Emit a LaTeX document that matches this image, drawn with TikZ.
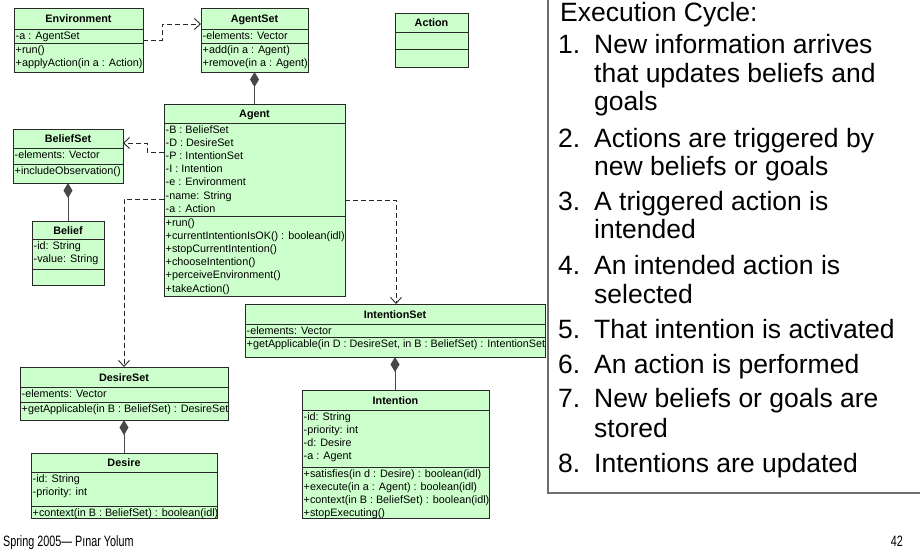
\documentclass[tikz,border=0pt]{standalone}
\usepackage{fontspec}
\setmainfont{Liberation Sans}
\usetikzlibrary{arrows.meta}
\definecolor{umlfill}{RGB}{204,255,204}
\definecolor{umlline}{RGB}{40,40,40}
\definecolor{panelline}{RGB}{110,110,110}
\tikzset{
 classbox/.style={draw=umlline, fill=umlfill, line width=0.9pt, inner sep=0pt, outer sep=0pt, anchor=north west, rectangle},
 sepline/.style={draw=umlline, line width=0.9pt},
 membertext/.style={font=\fontsize{10.8}{13}\selectfont, anchor=base west, inner sep=0pt},
 titletext/.style={font=\fontsize{10.8}{13}\selectfont\bfseries, anchor=base, inner sep=0pt},
 dep/.style={draw=umlline, line width=0.9pt, dash pattern=on 5pt off 3pt, -{Straight Barb[length=6pt,width=11pt]}},
 comp/.style={draw=umlline!85, line width=1pt, {Diamond[length=15pt,width=9pt]}-},
 paneltext/.style={font=\fontsize{26.5}{28}\selectfont, anchor=base west, inner sep=0pt},
 panelline/.style={draw=panelline, line width=1.5pt},
 foottext/.style={font=\fontsize{15}{16}\selectfont, inner sep=0pt, xscale=0.72},
}
\newcommand\umlclass[8]{%
  \node[classbox, minimum width={(#4-#2)*1pt}, minimum height={(#5-#3)*1pt}] (#1) at (#2,#3) {};
  \draw[sepline] (#1.west |- 0,#6) -- (#1.east |- 0,#6);
  \draw[sepline] (#1.west |- 0,#7) -- (#1.east |- 0,#7);
  \node[titletext] (#1-title) at ({(#2+#4)/2},{(#3+#6)/2+4}) {#8};
}
\newcommand\umlmembers[4]{%
  \foreach \t [count=\n from 0] in {#4} {\node[membertext] (#1-\n) at ({#2+1.5},{#3+10+13.2*\n}) {\t};}
}
\begin{document}
\begin{tikzpicture}[x=1pt,y=-1pt]
\useasboundingbox (0,0) rectangle (920,552);
\fill[white] (0,0) rectangle (920,552);

% classes
\umlclass{env}{14}{8}{143}{72}{29}{43}{Environment}
\umlmembers{enva}{14}{29}{-a : AgentSet}
\umlmembers{envm}{14}{43}{+run(),+applyAction(in a : Action)}

\umlclass{agentset}{201}{8}{308}{72}{29}{43}{AgentSet}
\umlmembers{agentseta}{201}{29}{-elements: Vector}
\umlmembers{agentsetm}{201}{43}{+add(in a : Agent),+remove(in a : Agent)}

\umlclass{action}{395}{13}{468}{67}{32}{49}{Action}

\umlclass{agent}{164}{104}{345}{296}{123}{216}{Agent}
\umlmembers{agenta}{164}{123}{-B : BeliefSet,-D : DesireSet,-P : IntentionSet,-I : Intention,-e : Environment,-name: String,-a : Action}
\umlmembers{agentm}{164}{216}{+run(),+currentIntentionIsOK() : boolean(idl),+stopCurrentIntention(),+chooseIntention(),+perceiveEnvironment(),+takeAction()}

\umlclass{beliefset}{13}{129}{123}{183}{148}{164}{BeliefSet}
\umlmembers{beliefseta}{13}{148}{-elements: Vector}
\umlmembers{beliefsetm}{13}{164}{+includeObservation()}

\umlclass{belief}{32}{221}{104}{285}{239}{269}{Belief}
\umlmembers{beliefa}{32}{239}{-id: String,-value: String}

\umlclass{desireset}{20}{367}{228}{420}{387}{402}{DesireSet}
\umlmembers{desireseta}{20}{387}{-elements: Vector}
\umlmembers{desiresetm}{20}{402}{+getApplicable(in B : BeliefSet) : DesireSet}

\umlclass{desire}{31}{453}{217}{518}{472}{506}{Desire}
\umlmembers{desirea}{31}{472}{-id: String,-priority: int}
\umlmembers{desirem}{31}{506}{+context(in B : BeliefSet) : boolean(idl)}

\umlclass{intentionset}{245}{304}{545}{357}{324}{337}{IntentionSet}
\umlmembers{intentionseta}{245}{324}{-elements: Vector}
\umlmembers{intentionsetm}{245}{337}{{+getApplicable(in D : DesireSet, in B : BeliefSet) : IntentionSet}}

\umlclass{intention}{302}{390}{489}{518}{410}{467}{Intention}
\umlmembers{intentiona}{302}{410}{-id: String,-priority: int,-d: Desire,-a : Agent}
\umlmembers{intentionm}{302}{467}{+satisfies(in d : Desire) : boolean(idl),+execute(in a : Agent) : boolean(idl),+context(in B : BeliefSet) : boolean(idl),+stopExecuting()}

% compositions
\draw[comp] (agentset.south) -- (agent.north);
\draw[comp] (beliefset.south) -- (belief.north);
\draw[comp] (desireset.south) -- (desire.north);
\draw[comp] (intentionset.south) -- (intentionset.south |- intention.north);

% dependencies
\draw[dep] (env.east |- 0,40) -- (162,40) -- (162,24) -- (agentset.west |- 0,24);
\draw[dep] (agent.west |- 0,152) -- (147,152) -- (147,143) -- (beliefset.east |- 0,143);
\draw[dep] (agent.west |- 0,199) -- (124,199) -- (desireset.north -| 124,0);
\draw[dep] (agent.east |- 0,200) -- (396,200) -- (intentionset.north -| 396,0);

% execution cycle panel
\coordinate (pTL) at (548,-5);
\coordinate (pBL) at (548,493);
\coordinate (pBR) at (930,493);
\draw[panelline] (pTL) -- (pBL) -- (pBR);

\node[paneltext] (ec) at (560,21) {Execution Cycle:};
\node[paneltext] (n1) at (558,53) {1.};
\node[paneltext] (t1a) at (594,53) {New information arrives};
\node[paneltext] (t1b) at (594,82) {that updates beliefs and};
\node[paneltext] (t1c) at (594,110) {goals};
\node[paneltext] (n2) at (558,147) {2.};
\node[paneltext] (t2a) at (594,147) {Actions are triggered by};
\node[paneltext] (t2b) at (594,175) {new beliefs or goals};
\node[paneltext] (n3) at (558,210) {3.};
\node[paneltext] (t3a) at (594,210) {A triggered action is};
\node[paneltext] (t3b) at (594,238) {intended};
\node[paneltext] (n4) at (558,274) {4.};
\node[paneltext] (t4a) at (594,274) {An intended action is};
\node[paneltext] (t4b) at (594,303) {selected};
\node[paneltext] (n5) at (558,338) {5.};
\node[paneltext] (t5a) at (594,338) {That intention is activated};
\node[paneltext] (n6) at (558,373) {6.};
\node[paneltext] (t6a) at (594,373) {An action is performed};
\node[paneltext] (n7) at (558,407) {7.};
\node[paneltext] (t7a) at (594,407) {New beliefs or goals are};
\node[paneltext] (t7b) at (594,437) {stored};
\node[paneltext] (n8) at (558,472) {8.};
\node[paneltext] (t8a) at (594,472) {Intentions are updated};

% footer
\node[foottext, anchor=base west] (foot) at (3,546) {Spring 2005— Pınar Yolum};
\node[foottext, anchor=base east] (page) at (903,546) {42};
\end{tikzpicture}
\end{document}
